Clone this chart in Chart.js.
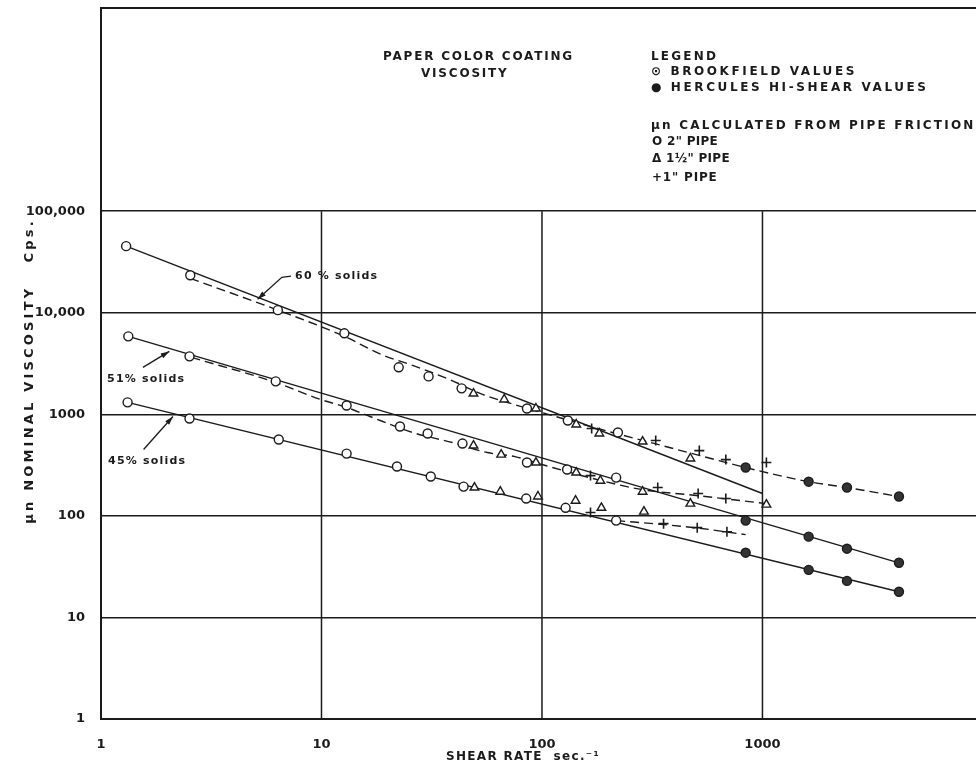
<!DOCTYPE html>
<html>
<head>
<meta charset="utf-8">
<script src="https://cdn.jsdelivr.net/npm/chart.js@4"></script>
<style>
  body { margin: 0; background: #fff; }
  canvas { display: block; }
</style>
</head>
<body>
<canvas id="viscosityChart" width="976" height="764"></canvas>
<script>
// axis ticks
const xTicks = [1, 10, 100, 1000];
const xTickLabels = ['1', '10', '100', '1000'];
const yTicks = [1, 10, 100, 1000, 10000, 100000];
const yTickLabels = ['1', '10', '100', '1000', '10,000', '100,000'];

// 60% solids  [shear rate, viscosity]
const open60 = [[1.3, 45200], [2.54, 23400], [6.34, 10600], [12.7, 6270], [22.4, 2900], [30.6, 2360], [43.2, 1800], [85.5, 1140], [131, 869], [221, 662]];
const tri60 = [[48.9, 1600], [67.4, 1400], [93.9, 1140], [143, 793], [182, 647], [286, 539], [471, 367]];
const plus60 = [[168, 724], [328, 552], [517, 439], [682, 358], [1042, 335]];
const herc60 = [[839, 299], [1620, 217], [2417, 190], [4160, 155]];
const fit60 = [[1.3, 45200], [1000, 166]];
const curve60 = [[2.54, 21800], [6.34, 10600], [12.7, 5850], [18.6, 3890], [25.9, 3030], [38.1, 2200], [53.7, 1570], [69.5, 1310], [100, 1040], [186, 708], [311, 527], [521, 392], [839, 299], [1620, 217], [2417, 190], [4160, 155]];

// 51% solids
const open51 = [[1.33, 5850], [2.52, 3720], [6.2, 2110], [13.0, 1220], [22.7, 758], [30.3, 647], [43.6, 515], [85.5, 335], [130, 286], [217, 238]];
const tri51 = [[48.9, 492], [65.3, 401], [93.9, 335], [143, 267], [184, 222], [286, 173], [471, 132], [1042, 129]];
const plus51 = [[166, 249], [335, 190], [511, 166], [682, 148]];
const herc51 = [[839, 89.8], [1620, 62.4], [2417, 47.5], [4160, 34.5]];
const fit51 = [[1.33, 5850], [4160, 34.5]];
const curve51 = [[2.57, 3630], [6.2, 2060], [9.9, 1400], [13.0, 1170], [16.6, 951], [25.9, 662], [39.3, 527], [56.5, 420], [75.5, 383], [100, 320], [186, 222], [286, 181], [511, 158], [1042, 132]];

// 45% solids
const open45 = [[1.32, 1310], [2.52, 909], [6.4, 564], [13.0, 410], [22.0, 306], [31.3, 244], [44.1, 194], [84.8, 148], [128, 120], [217, 89.8]];
const tri45 = [[49.4, 190], [64.7, 173], [95.9, 155], [142, 141], [186, 120], [290, 110]];
const plus45 = [[166, 108], [356, 83.8], [506, 76.5], [690, 69.8]];
const herc45 = [[839, 43.4], [1620, 29.4], [2417, 22.9], [4160, 17.9]];
const fit45 = [[1.32, 1310], [4160, 17.9]];
const curve45 = [[217, 89.8], [356, 82], [506, 76], [839, 65.3]];

const INK = '#1b1b1b';
const FONT = '"DejaVu Sans", sans-serif';

const pts = arr => arr.map(([x, y]) => ({ x: x, y: y }));

function openCircles(arr) {
    return { data: pts(arr), pointStyle: 'circle', pointRadius: 4.5, borderWidth: 1.4,
             borderColor: INK, backgroundColor: '#fff', showLine: false };
}
function triangles(arr) {
    return { data: pts(arr), pointStyle: 'triangle', pointRadius: 5, borderWidth: 1.4,
             borderColor: INK, backgroundColor: '#fff', showLine: false };
}
function crosses(arr) {
    return { data: pts(arr), pointStyle: 'cross', pointRadius: 5, borderWidth: 1.6,
             borderColor: INK, backgroundColor: INK, showLine: false };
}
function filled(arr) {
    return { data: pts(arr), pointStyle: 'circle', pointRadius: 4.5, borderWidth: 1.4,
             borderColor: INK, backgroundColor: '#333', showLine: false };
}
function solidLine(arr) {
    return { data: pts(arr), showLine: true, pointRadius: 0, borderColor: INK, borderWidth: 1.4 };
}
function dashedLine(arr) {
    return { data: pts(arr), showLine: true, pointRadius: 0, borderColor: INK, borderWidth: 1.4,
             borderDash: [9, 5], cubicInterpolationMode: 'monotone' };
}

// labels with arrows, placed in data coordinates
const notes = [
    { text: '60 % solids', at: [7.59, 22900], arrow: [[7.27, 22900], [6.61, 22300], [5.13, 13550]] },
    { text: '51% solids', at: [1.066, 2200], arrow: [[1.55, 2900], [2.04, 4160]] },
    { text: '45% solids', at: [1.077, 342], arrow: [[1.56, 450], [2.12, 951]] }
];

function spaced(ctx, text, x, y, spacing) {
    ctx.letterSpacing = spacing + 'px';
    ctx.fillText(text, x, y);
    ctx.letterSpacing = '0px';
}

const paperPlugin = {
    id: 'paper',
    beforeDatasetsDraw(chart) {
        const ctx = chart.ctx;
        const xs = chart.scales.x, ys = chart.scales.y;
        const area = chart.chartArea;
        ctx.save();
        ctx.strokeStyle = INK;
        ctx.lineWidth = 1.5;
        // vertical grid only inside the decade block
        xTicks.forEach(v => {
            const px = xs.getPixelForValue(v);
            ctx.beginPath();
            ctx.moveTo(px, ys.getPixelForValue(yTicks[0]));
            ctx.lineTo(px, ys.getPixelForValue(yTicks[yTicks.length - 1]));
            ctx.stroke();
        });
        // top frame
        ctx.lineWidth = 2;
        ctx.beginPath();
        ctx.moveTo(area.left, area.top);
        ctx.lineTo(area.right, area.top);
        ctx.stroke();
        ctx.restore();
    },
    afterDraw(chart) {
        const ctx = chart.ctx;
        const xs = chart.scales.x, ys = chart.scales.y;
        ctx.save();
        ctx.fillStyle = INK;
        ctx.strokeStyle = INK;
        ctx.textBaseline = 'middle';
        ctx.textAlign = 'left';

        ctx.font = 'bold 12px ' + FONT;
        spaced(ctx, 'PAPER COLOR COATING', 383, 57, 1.8);
        spaced(ctx, 'VISCOSITY', 421, 74, 1.8);

        spaced(ctx, 'LEGEND', 651, 57, 2.2);
        spaced(ctx, '\u2299 BROOKFIELD VALUES', 651, 72, 2.6);
        spaced(ctx, '\u25CF HERCULES HI-SHEAR VALUES', 651, 88, 2.6);
        spaced(ctx, '\u03BCn CALCULATED FROM PIPE FRICTION', 651, 126, 2.2);
        spaced(ctx, 'O 2" PIPE', 652, 142, 0.3);
        spaced(ctx, '\u0394 1\u00BD" PIPE', 652, 159, 0.3);
        spaced(ctx, '+1" PIPE', 652, 178, 0.8);

        // axis titles
        ctx.textAlign = 'center';
        spaced(ctx, 'SHEAR RATE  sec.\u207B\u00B9', 523, 757, 1.3);
        ctx.save();
        ctx.translate(30, 371);
        ctx.rotate(-Math.PI / 2);
        ctx.font = 'bold 13px ' + FONT;
        spaced(ctx, '\u03BCn NOMINAL VISCOSITY   Cps.', 0, 0, 3.2);
        ctx.restore();

        // curve labels and arrows
        ctx.textAlign = 'left';
        ctx.font = 'bold 11px ' + FONT;
        ctx.lineWidth = 1.3;
        notes.forEach(n => {
            spaced(ctx, n.text, xs.getPixelForValue(n.at[0]), ys.getPixelForValue(n.at[1]), 1.2);
            const p = n.arrow.map(([x, y]) => [xs.getPixelForValue(x), ys.getPixelForValue(y)]);
            ctx.beginPath();
            ctx.moveTo(p[0][0], p[0][1]);
            for (let i = 1; i < p.length; i++) ctx.lineTo(p[i][0], p[i][1]);
            ctx.stroke();
            const [ax, ay] = p[p.length - 1];
            const [bx, by] = p[p.length - 2];
            const ang = Math.atan2(ay - by, ax - bx);
            ctx.beginPath();
            ctx.moveTo(ax, ay);
            ctx.lineTo(ax - 9 * Math.cos(ang - 0.3), ay - 9 * Math.sin(ang - 0.3));
            ctx.lineTo(ax - 9 * Math.cos(ang + 0.3), ay - 9 * Math.sin(ang + 0.3));
            ctx.closePath();
            ctx.fill();
        });
        ctx.restore();
    }
};

new Chart(document.getElementById('viscosityChart'), {
    type: 'scatter',
    data: {
        datasets: [
            openCircles(open60), triangles(tri60), crosses(plus60), filled(herc60),
            openCircles(open51), triangles(tri51), crosses(plus51), filled(herc51),
            openCircles(open45), triangles(tri45), crosses(plus45), filled(herc45),
            solidLine(fit60), dashedLine(curve60),
            solidLine(fit51), dashedLine(curve51),
            solidLine(fit45), dashedLine(curve45)
        ]
    },
    options: {
        responsive: false,
        animation: false,
        devicePixelRatio: 1,
        layout: { autoPadding: false, padding: { top: 8, right: 0, left: 0, bottom: 0 } },
        plugins: { legend: { display: false }, tooltip: { enabled: false } },
        scales: {
            x: {
                type: 'logarithmic',
                min: 1,
                max: 9300,
                afterBuildTicks: scale => { scale.ticks = xTicks.map(v => ({ value: v })); },
                afterFit: scale => {
                    scale.height = 45;
                    scale.paddingLeft = 0;
                    scale.paddingRight = 0;
                },
                grid: { display: false },
                border: { display: true, color: INK, width: 2 },
                ticks: {
                    autoSkip: false,
                    maxRotation: 0,
                    padding: 10,
                    color: INK,
                    font: { family: FONT, size: 13, weight: 'bold' },
                    callback: v => xTickLabels[xTicks.indexOf(v)]
                }
            },
            y: {
                type: 'logarithmic',
                min: 1,
                max: 1e7,
                afterBuildTicks: scale => { scale.ticks = yTicks.map(v => ({ value: v })); },
                afterFit: scale => {
                    scale.width = 101;
                    scale.paddingTop = 0;
                    scale.paddingBottom = 0;
                },
                grid: { color: INK, lineWidth: 1.5, drawTicks: false },
                border: { display: true, color: INK, width: 2 },
                ticks: {
                    autoSkip: false,
                    padding: 16,
                    color: INK,
                    font: { family: FONT, size: 13, weight: 'bold' },
                    callback: v => yTickLabels[yTicks.indexOf(v)]
                }
            }
        }
    },
    plugins: [paperPlugin]
});
</script>
</body>
</html>
